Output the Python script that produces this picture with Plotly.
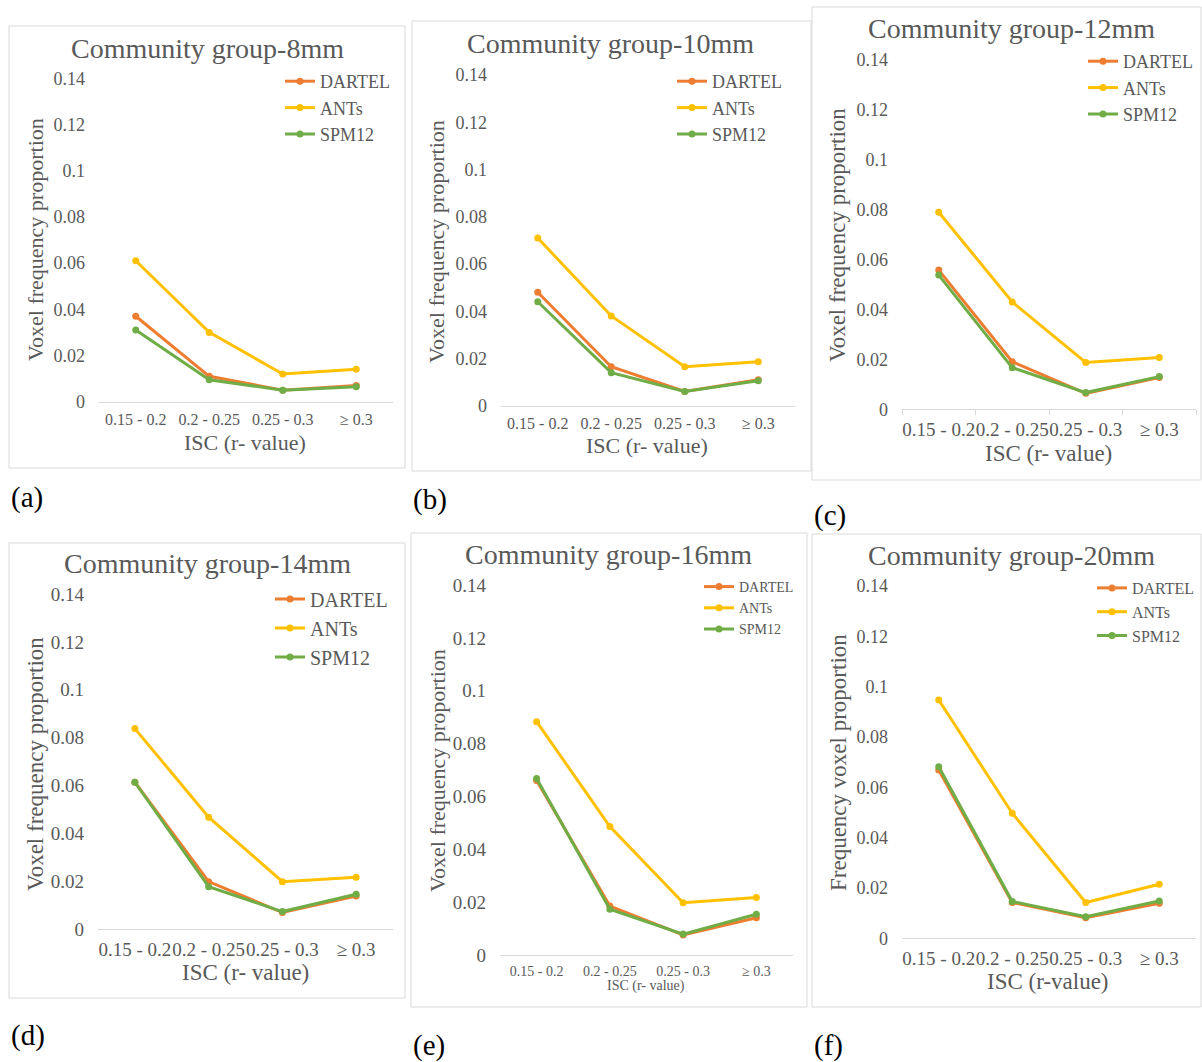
import plotly.graph_objects as go

W, H = 1202, 1062

categories = ["0.15 - 0.2", "0.2 - 0.25", "0.25 - 0.3", "≥ 0.3"]
series_names = ["DARTEL", "ANTs", "SPM12"]
y_tickvals = [0, 0.02, 0.04, 0.06, 0.08, 0.1, 0.12, 0.14]
y_ticktext = ["0", "0.02", "0.04", "0.06", "0.08", "0.1", "0.12", "0.14"]

panel_titles = ["Community group-8mm", "Community group-10mm", "Community group-12mm",
                "Community group-14mm", "Community group-16mm", "Community group-20mm"]
panel_labels = ["(a)", "(b)", "(c)", "(d)", "(e)", "(f)"]
x_titles = ["ISC (r- value)", "ISC (r- value)", "ISC (r- value)",
            "ISC (r- value)", "ISC (r- value)", "ISC (r-value)"]
y_titles = ["Voxel frequency proportion"] * 5 + ["Frequency voxel proportion"]

dartel_8mm = [0.037, 0.011, 0.005, 0.007]
ants_8mm = [0.061, 0.030, 0.012, 0.014]
spm12_8mm = [0.031, 0.0095, 0.005, 0.0065]

dartel_10mm = [0.048, 0.0165, 0.006, 0.011]
ants_10mm = [0.071, 0.038, 0.0165, 0.0186]
spm12_10mm = [0.044, 0.014, 0.006, 0.0106]

dartel_12mm = [0.0558, 0.0191, 0.0064, 0.0127]
ants_12mm = [0.079, 0.043, 0.0188, 0.0208]
spm12_12mm = [0.0538, 0.0167, 0.0067, 0.0131]

dartel_14mm = [0.0614, 0.0199, 0.007, 0.0139]
ants_14mm = [0.0838, 0.0468, 0.0199, 0.0217]
spm12_14mm = [0.0614, 0.0178, 0.0074, 0.0146]

dartel_16mm = [0.066, 0.0185, 0.0076, 0.0141]
ants_16mm = [0.0883, 0.0486, 0.0198, 0.0218]
spm12_16mm = [0.0668, 0.0173, 0.0079, 0.0154]

dartel_20mm = [0.0669, 0.0142, 0.0082, 0.0139]
ants_20mm = [0.0947, 0.0497, 0.0142, 0.0215]
spm12_20mm = [0.0682, 0.0146, 0.0086, 0.0148]

panel_series = [
    [dartel_8mm, ants_8mm, spm12_8mm],
    [dartel_10mm, ants_10mm, spm12_10mm],
    [dartel_12mm, ants_12mm, spm12_12mm],
    [dartel_14mm, ants_14mm, spm12_14mm],
    [dartel_16mm, ants_16mm, spm12_16mm],
    [dartel_20mm, ants_20mm, spm12_20mm],
]

colors = ["#ED7D31", "#FFC000", "#70AD47"]
TXT = "#595959"
FONT = "Liberation Serif"

# layout geometry in pixels
geo = [
    dict(ax=(99, 393), ay=(401.7, 78.3), box=(9, 26, 405, 468), title=(207, 48), xt=(245, 442), yt=(35, 240),
         leg=(320, 108), lab=(9, 497), fs=dict(yt=18, xt=16, at=22, leg=18), xticks=False),
    dict(ax=(501, 795), ay=(405.7, 75), box=(412, 21, 811, 471), title=(610, 44), xt=(647, 445), yt=(437, 242),
         leg=(712, 108), lab=(411, 499), fs=dict(yt=18, xt=16, at=22, leg=18), xticks=False),
    dict(ax=(902, 1196), ay=(409.3, 60), box=(812, 7, 1201, 480), title=(1011, 28), xt=(1048, 453), yt=(838, 235),
         leg=(1123, 88), lab=(812, 515), fs=dict(yt=18, xt=19, at=23, leg=18), xticks=True),
    dict(ax=(98, 393), ay=(929.3, 594), box=(9, 543, 405, 998), title=(207, 563), xt=(245, 972), yt=(35, 764),
         leg=(310, 628), lab=(9, 1035), fs=dict(yt=19, xt=19, at=23, leg=20), xticks=False),
    dict(ax=(500, 793), ay=(955, 585), box=(411, 533, 807, 1007), title=(608, 554), xt=(646, 986), yt=(437, 771),
         leg=(739, 608), lab=(411, 1045), fs=dict(yt=19, xt=14, at=22, leg=14, xat=14), xticks=False),
    dict(ax=(902, 1196), ay=(938.3, 586), box=(812, 534, 1201, 1007), title=(1011, 555), xt=(1048, 981), yt=(838, 763),
         leg=(1132, 612), lab=(812, 1045), fs=dict(yt=18, xt=19, at=23, leg=16), xticks=False),
]

fig = go.Figure()
annotations = []
shapes = []
layout_updates = {}

for i, g in enumerate(geo):
    n = i + 1
    xa = "x" if n == 1 else f"x{n}"
    ya = "y" if n == 1 else f"y{n}"
    leg = "legend" if n == 1 else f"legend{n}"
    for s, name in enumerate(series_names):
        fig.add_trace(go.Scatter(
            x=categories, y=panel_series[i][s], name=name, mode="lines+markers",
            line=dict(color=colors[s], width=3), marker=dict(color=colors[s], size=7),
            xaxis=xa, yaxis=ya, legend=leg, showlegend=True,
        ))
    fs = g["fs"]
    xkey = "xaxis" if n == 1 else f"xaxis{n}"
    ykey = "yaxis" if n == 1 else f"yaxis{n}"
    layout_updates[xkey] = dict(
        domain=[g["ax"][0] / W, g["ax"][1] / W], anchor=ya, type="category",
        range=[-0.5, 3.5], showline=True, linecolor="#D9D9D9", linewidth=1,
        showgrid=False, zeroline=False, tickangle=0,
        ticks="outside" if g["xticks"] else "", tickson="boundaries" if g["xticks"] else None,
        ticklen=5 if g["xticks"] else 0, tickcolor="#D9D9D9",
        tickfont=dict(family=FONT, size=fs["xt"], color=TXT), ticklabelstandoff=3,
    )
    layout_updates[ykey] = dict(
        domain=[1 - g["ay"][0] / H, 1 - g["ay"][1] / H], anchor=xa, range=[0, 0.14],
        tickvals=y_tickvals, ticktext=y_ticktext, showgrid=False, zeroline=False, showline=False,
        tickfont=dict(family=FONT, size=fs["yt"], color=TXT), ticklabelstandoff=13, ticks="",
    )
    layout_updates[leg] = dict(
        x=(g["leg"][0] - 40) / W, y=1 - g["leg"][1] / H, xanchor="left", yanchor="middle",
        bgcolor="rgba(0,0,0,0)", borderwidth=0, font=dict(family=FONT, size=fs["leg"], color=TXT),
        traceorder="normal",
    )
    l, t, r, b = g["box"]
    shapes.append(dict(type="rect", xref="paper", yref="paper", x0=l / W, x1=r / W,
                       y0=1 - b / H, y1=1 - t / H, line=dict(color="#D9D9D9", width=1), layer="below"))
    annotations.append(dict(text=panel_titles[i], x=g["title"][0] / W, y=1 - g["title"][1] / H,
                            xref="paper", yref="paper", showarrow=False, xanchor="center", yanchor="middle",
                            font=dict(family=FONT, size=28, color=TXT)))
    annotations.append(dict(text=x_titles[i], x=g["xt"][0] / W, y=1 - g["xt"][1] / H,
                            xref="paper", yref="paper", showarrow=False, xanchor="center", yanchor="middle",
                            font=dict(family=FONT, size=fs.get("xat", fs["at"]), color=TXT)))
    annotations.append(dict(text=y_titles[i], x=g["yt"][0] / W, y=1 - g["yt"][1] / H, textangle=-90,
                            xref="paper", yref="paper", showarrow=False, xanchor="center", yanchor="middle",
                            font=dict(family=FONT, size=fs["at"], color=TXT)))
    annotations.append(dict(text=panel_labels[i], x=g["lab"][0] / W, y=1 - g["lab"][1] / H,
                            xref="paper", yref="paper", showarrow=False, xanchor="left", yanchor="middle",
                            font=dict(family=FONT, size=29, color="#000000")))

fig.update_layout(**layout_updates)
fig.update_layout(
    width=W, height=H, margin=dict(l=0, r=0, t=0, b=0, autoexpand=False), autosize=False,
    paper_bgcolor="white", plot_bgcolor="white",
    annotations=annotations, shapes=shapes,
)

fig.write_html("out.html", config={"displayModeBar": False})
